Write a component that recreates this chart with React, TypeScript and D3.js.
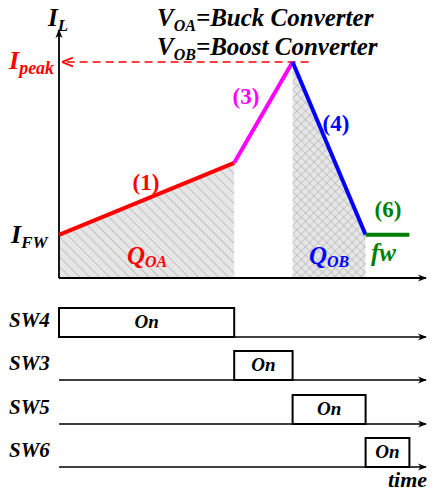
import * as d3 from 'd3'

// phase boundaries (arbitrary time units)
const phaseTimes = [0, 4.8, 6.4, 8.4, 9.6]
// inductor current at each boundary
const currentLevels = [1.8, 4.8, 9.0, 1.8, 1.8]
const segmentColors = ['#ff0000', '#ff00ff', '#0000ff', '#008000']
const segmentLabels = ['(1)', '(3)', '(4)', '(6)']

const switchNames = ['SW4', 'SW3', 'SW5', 'SW6']
const switchOn = [[0, 4.8], [4.8, 6.4], [6.4, 8.4], [8.4, 9.6]]

const IPEAK = 9.0
const IFW = 1.8

const W = 436
const H = 494
const font = 'Liberation Serif'

export default function App() {
  const x = d3.scaleLinear().domain([0, 10]).range([59, 424])
  const y = d3.scaleLinear().domain([0, 10]).range([278, 38])

  const pts = phaseTimes.map((t, i) => [t, currentLevels[i]] as [number, number])

  const area = d3.area<[number, number]>()
    .x(d => x(d[0]))
    .y0(y(0))
    .y1(d => y(d[1]))

  const line = d3.line<[number, number]>()
    .x(d => x(d[0]))
    .y(d => y(d[1]))

  // switch rows
  const rowBase = [337, 380, 424, 467]
  const rowH = 29

  const labelPos: [number, number][] = [[146, 190], [246, 104], [336, 131], [388, 217]]

  return (
    <svg width={W} height={H} style={{ position: 'absolute', left: 0, top: 0 }}>
      <defs>
        <marker id="arr" viewBox="0 0 10 10" refX="9" refY="5" markerWidth="9" markerHeight="9"
          orient="auto-start-reverse" markerUnits="userSpaceOnUse">
          <path d="M0,1 L10,5 L0,9 L3,5 Z" fill="#000" />
        </marker>
        <marker id="arrRed" viewBox="0 0 10 10" refX="9" refY="5" markerWidth="11" markerHeight="11"
          orient="auto" markerUnits="userSpaceOnUse">
          <path d="M0,1 L10,5 L0,9" fill="none" stroke="#ff0000" strokeWidth="1.5" />
        </marker>
        <pattern id="hatch" width="7" height="7" patternUnits="userSpaceOnUse" patternTransform="rotate(-45)">
          <rect width="7" height="7" fill="#e6e6e6" />
          <line x1="0" y1="0" x2="0" y2="7" stroke="#a8a8a8" strokeWidth="1.2" />
        </pattern>
        <pattern id="cross" width="6" height="6" patternUnits="userSpaceOnUse" patternTransform="rotate(45)">
          <rect width="6" height="6" fill="#e6e6e6" />
          <line x1="0" y1="0" x2="0" y2="6" stroke="#a8a8a8" strokeWidth="1" />
          <line x1="0" y1="0" x2="6" y2="0" stroke="#a8a8a8" strokeWidth="1" />
        </pattern>
      </defs>

      {/* charge areas */}
      <path d={area(pts.slice(0, 2)) ?? ''} fill="url(#hatch)" />
      <path d={area(pts.slice(2, 4)) ?? ''} fill="url(#cross)" />

      {/* axes */}
      <line x1={x(0)} y1={y(0)} x2={x(0)} y2={30} stroke="#000" strokeWidth={1.8} markerEnd="url(#arr)" />
      <line x1={x(0)} y1={y(0)} x2={x(10) + 2} y2={y(0)} stroke="#000" strokeWidth={1.8} markerEnd="url(#arr)" />

      {/* Ipeak dashed */}
      <line x1={x(6.4) + 16} y1={y(IPEAK)} x2={x(0) + 4} y2={y(IPEAK)} stroke="#ff0000"
        strokeWidth={1.5} strokeDasharray="8,5" markerEnd="url(#arrRed)" />

      {/* current waveform */}
      {segmentColors.map((c, i) => (
        <path key={i} d={line(pts.slice(i, i + 2)) ?? ''} stroke={c} strokeWidth={4} fill="none" strokeLinecap="butt" />
      ))}

      <g fontFamily={font} fontWeight="bold">
        {segmentLabels.map((s, i) => (
          <text key={s} x={labelPos[i][0]} y={labelPos[i][1]} fill={segmentColors[i]} fontSize={23}
            textAnchor="middle">{s}</text>
        ))}
      </g>

      <g fontFamily={font} fontWeight="bold" fontStyle="italic">
        {/* axis labels */}
        <text x={48} y={26} fontSize={25}>I<tspan fontSize={17} dy={5}>L</tspan></text>
        <text x={157} y={26} fontSize={25}>V<tspan fontSize={16} dy={5}>OA</tspan><tspan dy={-5}>=Buck Converter</tspan></text>
        <text x={157} y={55} fontSize={25}>V<tspan fontSize={16} dy={5}>OB</tspan><tspan dy={-5}>=Boost Converter</tspan></text>
        <text x={9} y={y(IPEAK) + 7} fontSize={26} fill="#ff0000">I<tspan fontSize={18} dy={5}>peak</tspan></text>
        <text x={11} y={y(IFW) + 8} fontSize={26}>I<tspan fontSize={17} dy={5}>FW</tspan></text>
        <text x={127} y={264} fontSize={25} fill="#ff0000">Q<tspan fontSize={16} dy={3}>OA</tspan></text>
        <text x={309} y={264} fontSize={25} fill="#0000ff">Q<tspan fontSize={16} dy={3}>OB</tspan></text>
        <text x={371} y={261} fontSize={25} fill="#008000">fw</text>

        {/* switch timing */}
        {switchNames.map((name, i) => {
          const base = rowBase[i]
          const [a, b] = switchOn[i]
          return (
            <g key={name}>
              <line x1={x(0)} y1={base} x2={x(10) + 2} y2={base} stroke="#000" strokeWidth={1.5} markerEnd="url(#arr)" />
              <rect x={x(a)} y={base - rowH} width={x(b) - x(a)} height={rowH} fill="#fff" stroke="#000" strokeWidth={2} />
              <text x={(x(a) + x(b)) / 2} y={base - 9} fontSize={19} textAnchor="middle">On</text>
              <text x={9} y={base - 10} fontSize={21}>{name}</text>
            </g>
          )
        })}
        <text x={388} y={487} fontSize={22}>time</text>
      </g>
    </svg>
  )
}
